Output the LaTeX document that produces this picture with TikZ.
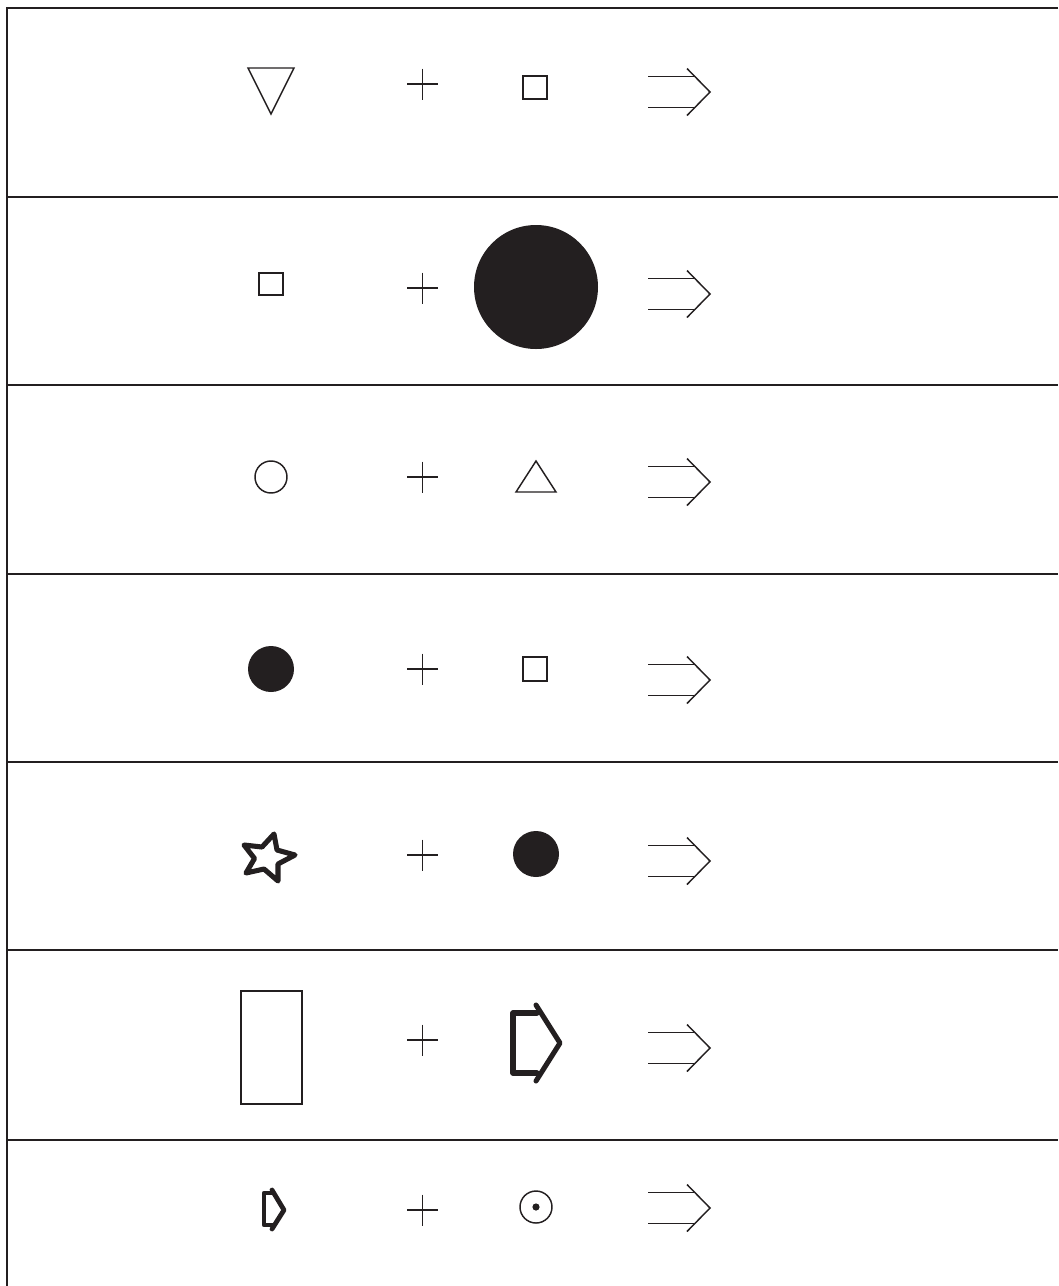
\documentclass[tikz,border=0pt]{standalone}
\definecolor{ink}{HTML}{231F20}
\begin{document}
\begin{tikzpicture}[x=0.75pt,y=-0.75pt,
  frame/.style={draw=ink,line width=1.4pt},
  thinline/.style={draw=ink,line width=1.1pt,line join=miter},
  thickline/.style={draw=ink,line width=3.8pt,line cap=round,line join=round},
  solid fill/.style={fill=ink,draw=none}]
\useasboundingbox (0,0) rectangle (1058,1286);
% frame and dividers
\draw[frame] (1058,8) -- (7,8) -- (7,1286);
\foreach \yy in {197,385,574,762,950,1140}
  \draw[frame] (7,\yy) -- (1058,\yy);
% plus signs
\foreach \cy in {84,288,477,669,855,1040,1210}{
  \draw[thinline] (407,\cy) -- (438,\cy);
  \draw[thinline] (422.5,\cy-15.5) -- (422.5,\cy+15.5);
}
% double arrows
\foreach \cy in {92,294,482,680,861,1048,1208}{
  \draw[thinline] (648,\cy-15.5) -- (695,\cy-15.5);
  \draw[thinline] (648,\cy+15.5) -- (695,\cy+15.5);
  \draw[thinline] (687,\cy-23.5) -- (710,\cy) -- (687,\cy+23.5);
}
% row 1
\draw[thinline] (248,68) -- (294,68) -- (271,114) -- cycle;
\draw[thinline] (523,76) rectangle (547,99);
% row 2
\draw[thinline] (259,273) rectangle (283,295);
\fill[solid fill] (536,287) circle[radius=46.5pt];
% row 3
\draw[thinline] (271,477) circle[radius=12pt];
\draw[thinline] (516,492) -- (556,492) -- (536,461) -- cycle;
% row 4
\fill[solid fill] (271,669) circle[radius=17.25pt];
\draw[thinline] (523,657) rectangle (547,681);
% row 5
\draw[thickline] (274,834) -- (277,850) -- (295,855) -- (278,864) -- (278,881)
  -- (264,869) -- (246,873) -- (254.5,858.5) -- (244,845) -- (262,847) -- cycle;
\fill[solid fill] (536,854) circle[radius=17.25pt];
% row 6
\draw[thinline] (241,991) rectangle (302,1104);
\draw[thickline] (537,1013) -- (513,1013) -- (513,1073) -- (537,1073);
\draw[thickline] (536,1005) -- (560,1043) -- (536,1081);
% row 7
\draw[thickline,line width=3.6pt] (272,1193) -- (264,1193) -- (264,1225) -- (272,1225);
\draw[thickline,line width=3.6pt] (272,1190) -- (284,1210) -- (272,1229);
\draw[thinline] (536,1207) circle[radius=12pt];
\fill[solid fill] (536,1207) circle[radius=2.7pt];
\end{tikzpicture}
\end{document}
